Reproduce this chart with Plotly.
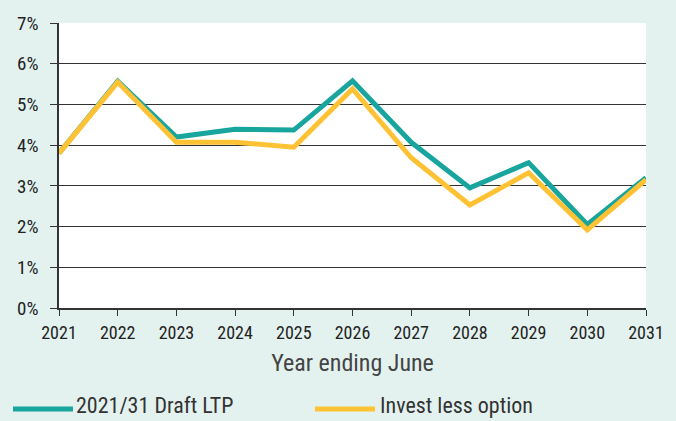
import plotly.graph_objects as go

years = [2021, 2022, 2023, 2024, 2025, 2026, 2027, 2028, 2029, 2030, 2031]
draft_ltp = [3.80, 5.57, 4.20, 4.39, 4.37, 5.58, 4.07, 2.95, 3.57, 2.05, 3.20]
invest_less = [3.80, 5.55, 4.07, 4.07, 3.95, 5.38, 3.69, 2.53, 3.32, 1.92, 3.15]
series_names = ["2021/31 Draft LTP", "Invest less option"]
colors = ["#17A59D", "#FFC234"]
y_ticks = [0, 1, 2, 3, 4, 5, 6, 7]
y_tick_text = [f"{v}%" for v in y_ticks]

FONT = "Liberation Sans Narrow, Roboto Condensed, Arial Narrow, sans-serif"
BG = "#E3F2EF"

fig = go.Figure()
for name, vals, col in zip(series_names, [draft_ltp, invest_less], colors):
    fig.add_trace(go.Scatter(x=years, y=vals, mode="lines", name=name,
                             line=dict(color=col, width=5), showlegend=False))

L, R, T, B = 59, 646, 23, 308
W, H = R - L, B - T

fig.update_layout(
    width=676, height=421,
    margin=dict(l=L, r=676 - R, t=T, b=421 - B),
    paper_bgcolor=BG, plot_bgcolor="white",
    font=dict(family=FONT, color="#222", size=18),
    xaxis=dict(range=[2021, 2031], tickvals=years, ticks="outside", ticklen=6,
               tickcolor="#333", showgrid=False, showline=True, linecolor="#333",
               linewidth=1.5, zeroline=False, tickfont=dict(size=18),
               ticklabelstandoff=2,
               title=dict(text="Year ending June", font=dict(size=24, color="#444"), standoff=12)),
    yaxis=dict(range=[0, 7], tickvals=y_ticks, ticktext=y_tick_text, ticks="outside",
               ticklen=7, tickcolor="#333", showgrid=True, gridcolor="#333", gridwidth=1,
               showline=True, linecolor="#333", linewidth=1.5, zeroline=False,
               tickfont=dict(size=19), ticklabelstandoff=8),
)

# manual legend
legend_items = [(13, 73, 77), (315, 375, 381)]
line_y = (B - 409) / H
text_y = (B - 405) / H
for (x0, x1, tx), name, col in zip(legend_items, series_names, colors):
    fig.add_shape(type="line", xref="paper", yref="paper",
                  x0=(x0 - L) / W, x1=(x1 - L) / W, y0=line_y, y1=line_y,
                  line=dict(color=col, width=5))
    fig.add_annotation(xref="paper", yref="paper", x=(tx - L) / W, y=text_y,
                       text=name, showarrow=False, xanchor="left", yanchor="middle",
                       xshift=-2, borderpad=0, font=dict(size=22, color="#333", family=FONT))

fig.write_html("out.html", config={"displayModeBar": False},
               post_script="document.body.style.margin='0';document.body.style.overflow='hidden';")
